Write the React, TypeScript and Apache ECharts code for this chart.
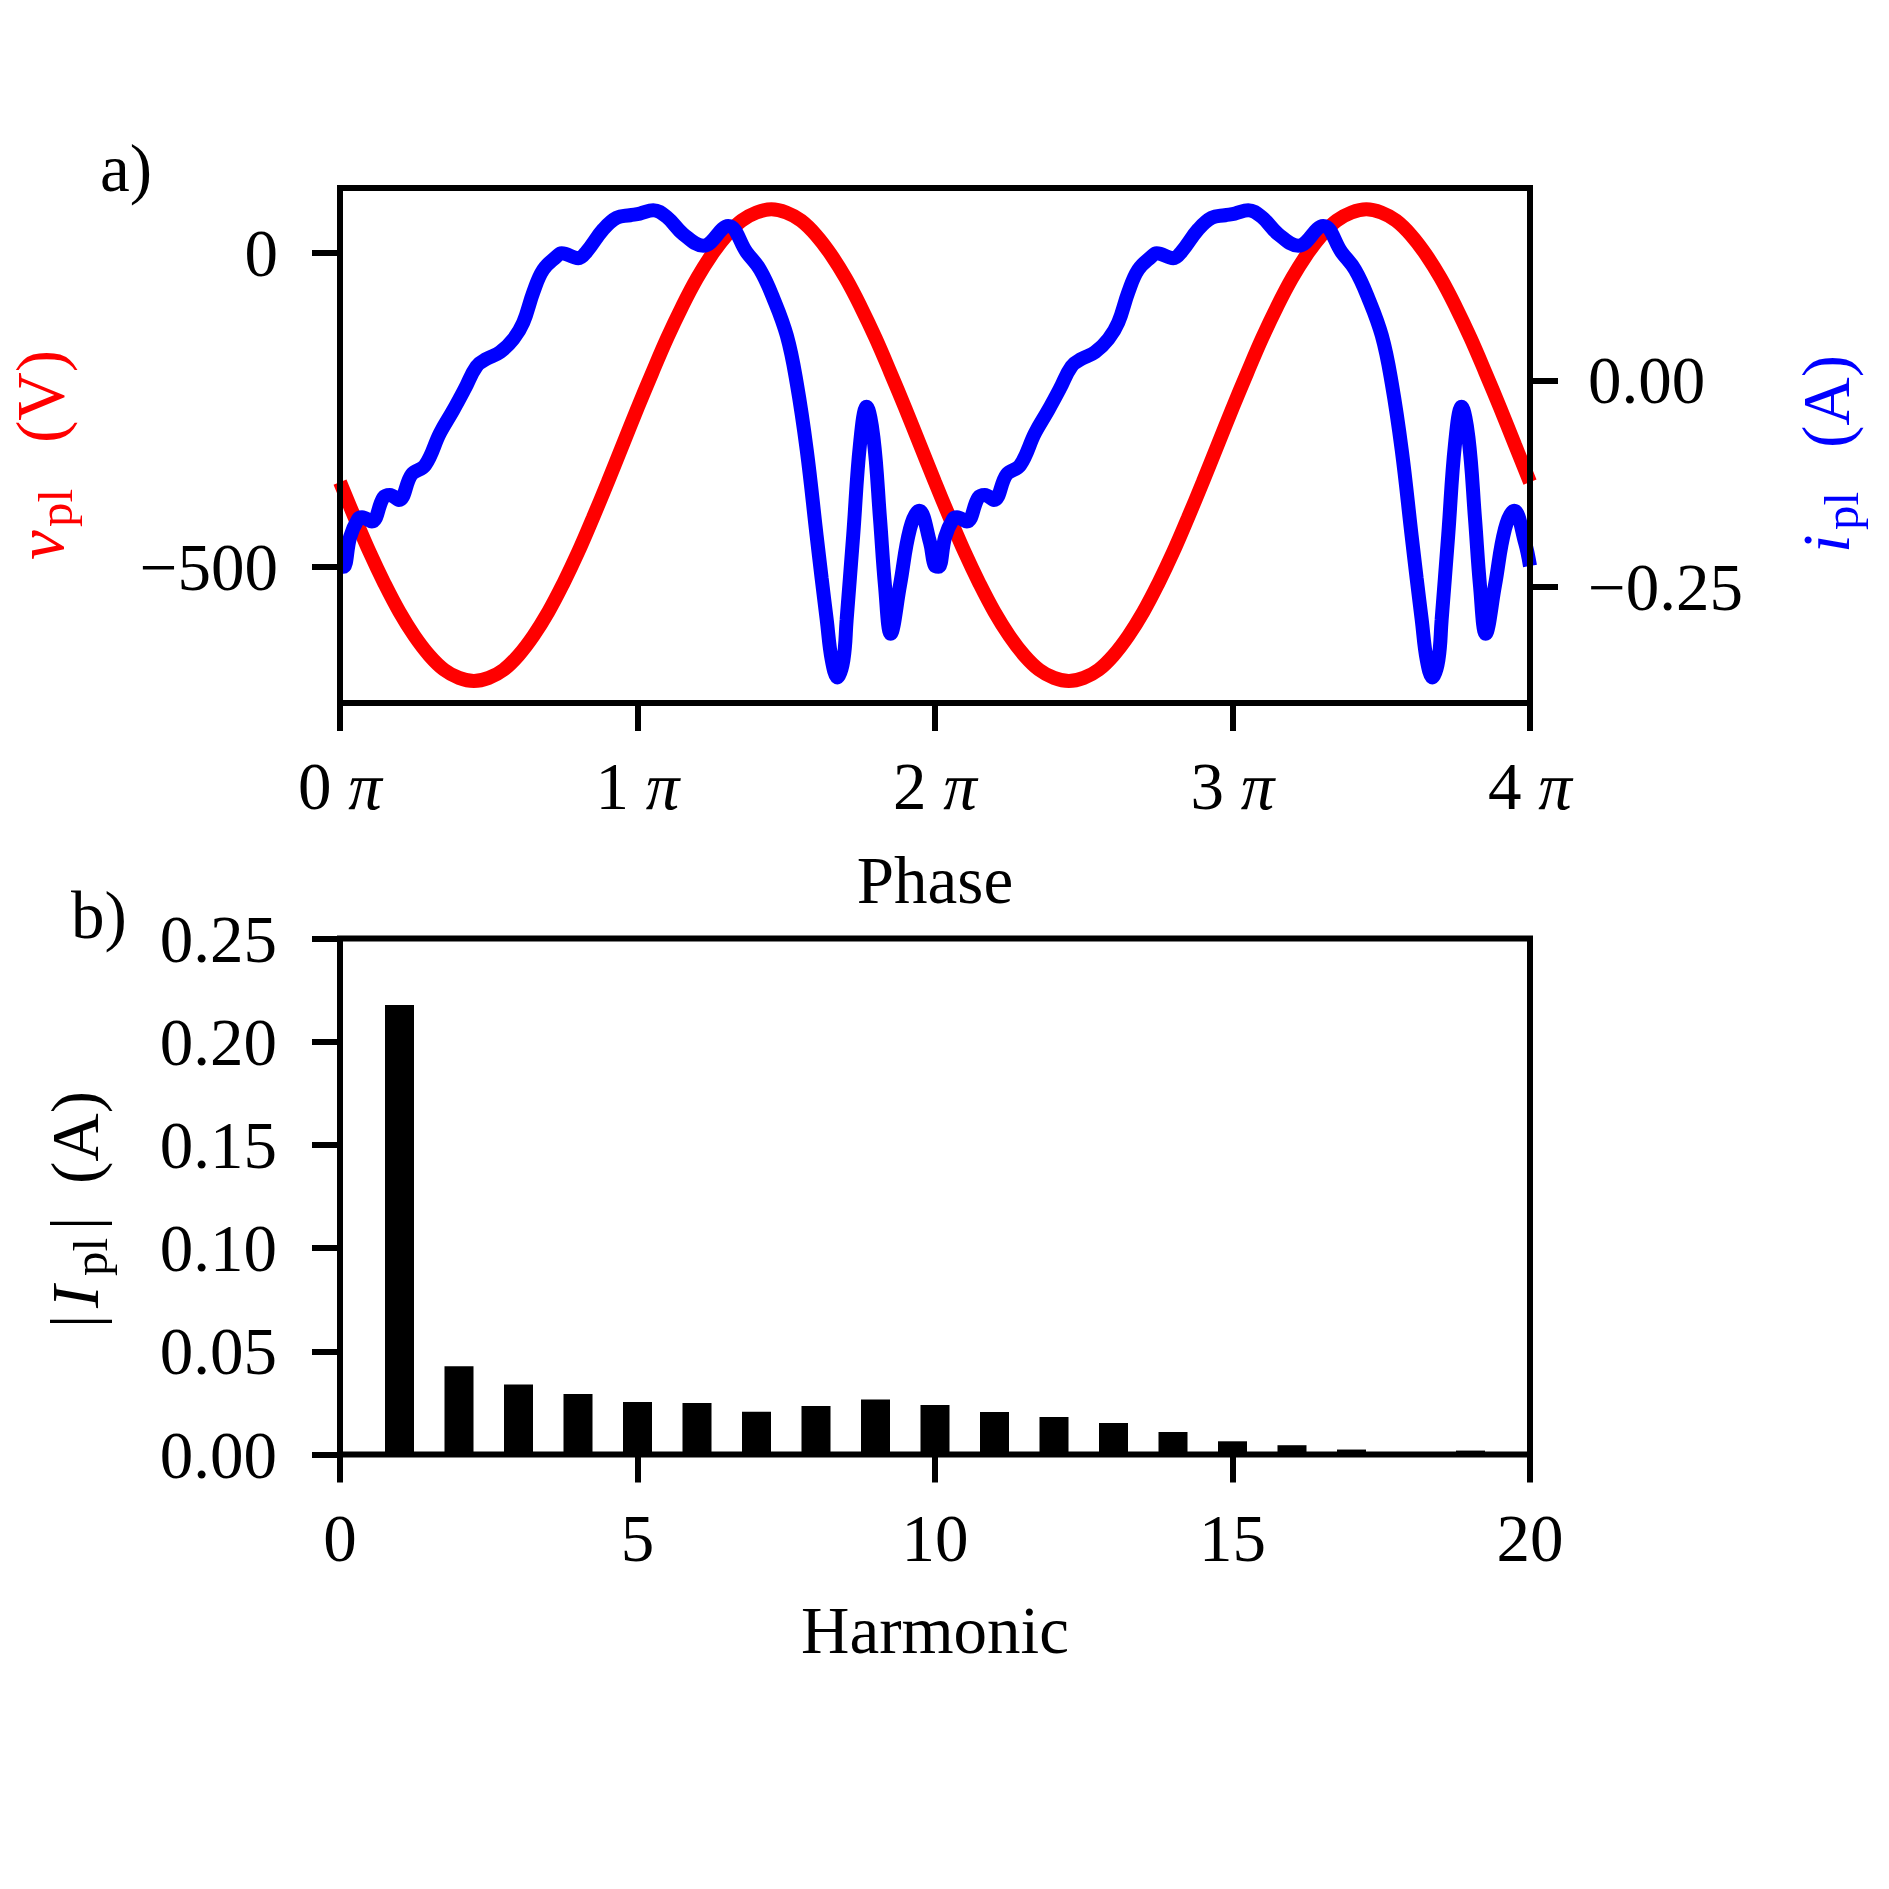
import React, { useEffect, useRef } from "react";
import * as echarts from "echarts";

const FONT = '"Liberation Serif", "Times New Roman", serif';
const FS = 67;
const SUB = 49;
const RED = "#ff0000";
const BLUE = "#0000ff";

// ---- data ----
const phaseTicks = [0, 1, 2, 3, 4];
const voltageTicks = [-500, 0];
const currentTicks = [-0.25, 0];

const voltagePhase = [
  0, 0.05, 0.1, 0.15, 0.2, 0.25, 0.3, 0.35, 0.4, 0.45, 0.5, 0.55, 0.6, 0.65, 0.7, 0.75, 0.8, 0.85, 0.9, 0.95,
  1.0, 1.05, 1.1, 1.15, 1.2, 1.25, 1.3, 1.35, 1.4, 1.45, 1.5, 1.55, 1.6, 1.65, 1.7, 1.75, 1.8, 1.85, 1.9, 1.95,
  2.0, 2.05, 2.1, 2.15, 2.2, 2.25, 2.3, 2.35, 2.4, 2.45, 2.5, 2.55, 2.6, 2.65, 2.7, 2.75, 2.8, 2.85, 2.9, 2.95,
  3.0, 3.05, 3.1, 3.15, 3.2, 3.25, 3.3, 3.35, 3.4, 3.45, 3.5, 3.55, 3.6, 3.65, 3.7, 3.75, 3.8, 3.85, 3.9, 3.95,
  4.0,
];
const voltage = [
  -365, -422, -477, -527, -572, -610, -641, -664, -677, -682, -677, -664, -641, -610, -572, -527, -477, -422, -365, -306,
  -247, -190, -135, -85, -40, -2, 29, 52, 65, 70, 65, 52, 29, -2, -40, -85, -135, -190, -247, -306,
  -365, -422, -477, -527, -572, -610, -641, -664, -677, -682, -677, -664, -641, -610, -572, -527, -477, -422, -365, -306,
  -247, -190, -135, -85, -40, -2, 29, 52, 65, 70, 65, 52, 29, -2, -40, -85, -135, -190, -247, -306,
  -365,
];

const currentPhase = [
  0.0, 0.012, 0.034, 0.061, 0.074, 0.107, 0.146, 0.168, 0.198, 0.241, 0.286, 0.336, 0.381, 0.42, 0.459, 0.493,
  0.538, 0.583, 0.616, 0.65, 0.683, 0.728, 0.745, 0.801, 0.829, 0.885, 0.93, 0.975, 1.008, 1.053, 1.098, 1.154,
  1.221, 1.305, 1.367, 1.412, 1.456, 1.502, 1.535, 1.569, 1.602, 1.619, 1.636, 1.653, 1.672, 1.692, 1.703, 1.725,
  1.748, 1.77, 1.793, 1.815, 1.832, 1.851, 1.882, 1.916, 1.947, 1.983,
  2.0, 2.012, 2.034, 2.061, 2.074, 2.107, 2.146, 2.168, 2.198, 2.241, 2.286, 2.336, 2.381, 2.42, 2.459, 2.493,
  2.538, 2.583, 2.616, 2.65, 2.683, 2.728, 2.745, 2.801, 2.829, 2.885, 2.93, 2.975, 3.008, 3.053, 3.098, 3.154,
  3.221, 3.305, 3.367, 3.412, 3.456, 3.502, 3.535, 3.569, 3.602, 3.619, 3.636, 3.653, 3.672, 3.692, 3.703, 3.725,
  3.748, 3.77, 3.793, 3.815, 3.832, 3.851, 3.882, 3.916, 3.947, 3.983,
  4.0,
];
const current = [
  -0.225, -0.226, -0.19, -0.168, -0.166, -0.171, -0.142, -0.139, -0.145, -0.114, -0.103, -0.064, -0.036, -0.01, 0.017, 0.026,
  0.034, 0.05, 0.07, 0.107, 0.134, 0.15, 0.154, 0.148, 0.156, 0.183, 0.197, 0.2, 0.202, 0.206, 0.198, 0.177,
  0.163, 0.187, 0.155, 0.134, 0.1, 0.054, -0.003, -0.085, -0.188, -0.24, -0.29, -0.339, -0.36, -0.339, -0.29, -0.188,
  -0.077, -0.032, -0.069, -0.167, -0.249, -0.307, -0.249, -0.18, -0.158, -0.196,
  -0.225, -0.226, -0.19, -0.168, -0.166, -0.171, -0.142, -0.139, -0.145, -0.114, -0.103, -0.064, -0.036, -0.01, 0.017, 0.026,
  0.034, 0.05, 0.07, 0.107, 0.134, 0.15, 0.154, 0.148, 0.156, 0.183, 0.197, 0.2, 0.202, 0.206, 0.198, 0.177,
  0.163, 0.187, 0.155, 0.134, 0.1, 0.054, -0.003, -0.085, -0.188, -0.24, -0.29, -0.339, -0.36, -0.339, -0.29, -0.188,
  -0.077, -0.032, -0.069, -0.167, -0.249, -0.307, -0.249, -0.18, -0.158, -0.196,
  -0.225,
];

const harmonics = [1, 2, 3, 4, 5, 6, 7, 8, 9, 10, 11, 12, 13, 14, 15, 16, 17, 18, 19];
const harmonicAmplitude = [
  0.2178, 0.0427, 0.0339, 0.0293, 0.0254, 0.0249, 0.0207, 0.0235, 0.0267, 0.024, 0.0206, 0.0182, 0.0153, 0.0109,
  0.0064, 0.0045, 0.0024, 0.0004, 0.0019,
];
const harmonicTicks = [0, 5, 10, 15, 20];
const amplitudeTicks = [0, 0.05, 0.1, 0.15, 0.2, 0.25];

const minus = (s: string) => s.replace("-", "\u2212");

const tickStyle = { show: true, inside: false, length: 28, lineStyle: { color: "#000", width: 6 } };
const hiddenLine = { show: false, onZero: false };
const labelBase = { color: "#000", fontFamily: FONT, fontSize: FS };

function rotatedLabel(x: number, y: number, color: string, parts: { t: string; u: number; sub?: boolean; italic?: boolean }[]) {
  return {
    type: "group",
    x,
    y,
    rotation: Math.PI / 2,
    children: parts.map((p) => {
      const size = p.sub ? SUB : FS;
      const w = p.sub ? 9 - 0.3375 * SUB : -0.3375 * FS;
      return {
        type: "text",
        x: p.u,
        y: w,
        style: {
          text: p.t,
          fill: color,
          font: `${p.italic ? "italic " : ""}${size}px ${FONT}`,
          textAlign: "left",
          textVerticalAlign: "middle",
        },
      };
    }),
  };
}

export default function App() {
  const ref = useRef<HTMLDivElement>(null);
  useEffect(() => {
    document.body.style.margin = "0";
    const chart = echarts.init(ref.current!, null, { renderer: "svg" });
    const option: any = {
      animation: false,
      backgroundColor: "#fff",
      grid: [
        { left: 340, top: 188, width: 1190, height: 515, show: true, borderColor: "#000", borderWidth: 6, z: 10 },
        { left: 340, top: 938.5, width: 1190, height: 516, show: true, borderColor: "#000", borderWidth: 6, z: 10 },
      ],
      xAxis: [
        {
          gridIndex: 0,
          type: "value",
          min: phaseTicks[0],
          max: phaseTicks[phaseTicks.length - 1],
          interval: 1,
          z: 10,
          axisLine: hiddenLine,
          axisTick: tickStyle,
          splitLine: { show: false },
          axisLabel: {
            ...labelBase,
            margin: 49.5,
            showMinLabel: true,
            showMaxLabel: true,
            formatter: (v: number) => `${v} {p|\u03c0}`,
            rich: { p: { fontFamily: FONT, fontSize: FS, fontStyle: "italic", color: "#000" } },
          },
          name: "Phase",
          nameLocation: "middle",
          nameGap: 143.5,
          nameTextStyle: { ...labelBase },
        },
        {
          gridIndex: 1,
          type: "value",
          min: harmonicTicks[0],
          max: harmonicTicks[harmonicTicks.length - 1],
          interval: 5,
          z: 10,
          axisLine: hiddenLine,
          axisTick: tickStyle,
          splitLine: { show: false },
          axisLabel: { ...labelBase, margin: 49.5, showMinLabel: true, showMaxLabel: true },
          name: "Harmonic",
          nameLocation: "middle",
          nameGap: 141.5,
          nameTextStyle: { ...labelBase },
        },
      ],
      yAxis: [
        {
          gridIndex: 0,
          type: "value",
          min: -717,
          max: 104,
          z: 10,
          axisLine: hiddenLine,
          axisTick: { ...tickStyle, customValues: voltageTicks },
          splitLine: { show: false },
          axisLabel: { ...labelBase, margin: 62, customValues: voltageTicks, formatter: (v: number) => minus(String(v)) },
        },
        {
          gridIndex: 0,
          type: "value",
          position: "right",
          min: -0.391,
          max: 0.233,
          alignTicks: false,
          z: 10,
          axisLine: hiddenLine,
          axisTick: { ...tickStyle, customValues: currentTicks },
          splitLine: { show: false },
          axisLabel: { ...labelBase, margin: 58, customValues: currentTicks, formatter: (v: number) => minus(v.toFixed(2)) },
        },
        {
          gridIndex: 1,
          type: "value",
          min: amplitudeTicks[0],
          max: amplitudeTicks[amplitudeTicks.length - 1],
          interval: 0.05,
          z: 10,
          axisLine: hiddenLine,
          axisTick: tickStyle,
          splitLine: { show: false },
          axisLabel: { ...labelBase, margin: 63, showMinLabel: true, showMaxLabel: true, formatter: (v: number) => v.toFixed(2) },
        },
      ],
      series: [
        {
          type: "line",
          xAxisIndex: 0,
          yAxisIndex: 0,
          data: voltagePhase.map((p, i) => [p, voltage[i]]),
          smooth: 0.4,
          showSymbol: false,
          lineStyle: { color: RED, width: 14 },
          z: 2,
        },
        {
          type: "line",
          xAxisIndex: 0,
          yAxisIndex: 1,
          data: currentPhase.map((p, i) => [p, current[i]]),
          smooth: 0.4,
          showSymbol: false,
          lineStyle: { color: BLUE, width: 14 },
          z: 3,
        },
        {
          type: "bar",
          xAxisIndex: 1,
          yAxisIndex: 2,
          data: harmonics.map((h, i) => [h, harmonicAmplitude[i]]),
          barWidth: 29,
          itemStyle: { color: "#000" },
          z: 2,
        },
      ],
      graphic: [
        {
          type: "text",
          x: 100,
          y: 191 - 0.3375 * FS,
          style: { text: "a)", fill: "#000", font: `${FS}px ${FONT}`, textAlign: "left", textVerticalAlign: "middle" },
        },
        {
          type: "text",
          x: 71,
          y: 938 - 0.3375 * FS,
          style: { text: "b)", fill: "#000", font: `${FS}px ${FONT}`, textAlign: "left", textVerticalAlign: "middle" },
        },
        rotatedLabel(63, 560, RED, [
          { t: "v", u: 0, italic: true },
          { t: "pl", u: 33, sub: true },
          { t: "(V)", u: 117 },
        ]),
        rotatedLabel(1849, 553, BLUE, [
          { t: "i", u: 0, italic: true },
          { t: "pl", u: 23, sub: true },
          { t: "(A)", u: 105 },
        ]),
        rotatedLabel(98, 1328, "#000", [
          { t: "|", u: 0 },
          { t: "I", u: 20, italic: true },
          { t: "pl", u: 52, sub: true },
          { t: "|", u: 98 },
          { t: "(A)", u: 144 },
        ]),
      ],
    };
    chart.setOption(option);
    return () => chart.dispose();
  }, []);
  return (
    <div
      ref={ref}
      style={{ position: "absolute", left: 0, top: 0, width: 1889, height: 1889, background: "#fff" }}
    />
  );
}
